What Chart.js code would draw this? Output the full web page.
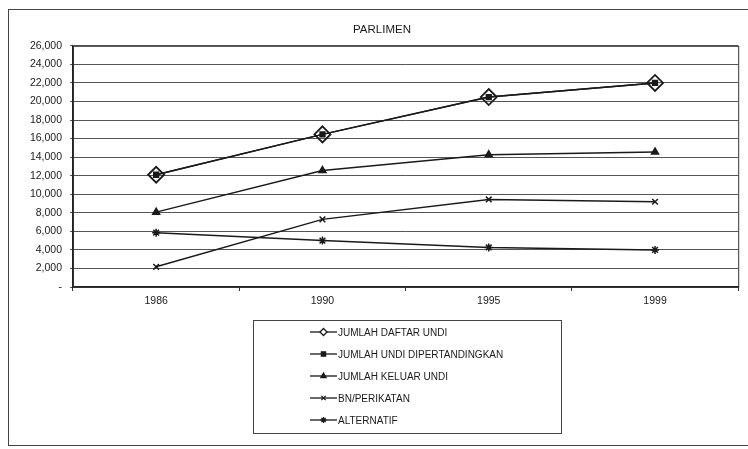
<!DOCTYPE html>
<html lang="ms">
<head>
  <meta charset="UTF-8" />
  <title>Parlimen</title>
  <script src="https://cdn.jsdelivr.net/npm/chart.js"></script>
  <style>
    body {
      margin: 0;
      padding: 0;
      background: #fff;
      font-family: 'Liberation Sans', Arial, sans-serif;
    }

    .page {
      position: relative;
      width: 748px;
      height: 449px;
      overflow: hidden;
    }

    .frame {
      position: absolute;
      left: 8px;
      top: 9px;
      width: 760px;
      height: 435px;
      border-left: 1px solid #444;
      border-top: 1px solid #444;
      border-bottom: 1px solid #444;
    }

    .chart-box {
      position: absolute;
      left: 0;
      top: 0;
      width: 748px;
      height: 449px;
    }

    .legend {
      position: absolute;
      left: 253px;
      top: 320px;
      width: 309px;
      height: 114px;
      border: 1px solid #444;
      box-sizing: border-box;
      padding: 0 0 0 54px;
    }

    .legend-row {
      display: flex;
      align-items: center;
      height: 22px;
      font-size: 10px;
      color: #1a1a1a;
    }

    .legend-row canvas {
      width: 30px;
      height: 12px;
      margin-right: 0;
    }
  </style>
</head>
<body>
  <div class="page">
    <div class="frame"></div>
    <div class="chart-box"><canvas id="parlimenChart"></canvas></div>
    <div class="legend" id="legend"></div>
  </div>

  <script>
    // values
    const years = ['1986', '1990', '1995', '1999'];
    const daftarUndi = [12100, 16450, 20470, 22000];
    const undiDipertandingkan = [12100, 16450, 20470, 22000];
    const keluarUndi = [8070, 12550, 14250, 14550];
    const bnPerikatan = [2180, 7290, 9440, 9190];
    const alternatif = [5860, 5000, 4260, 4000];

    const yMax = 26000;
    const yStep = 2000;

    const seriesNames = [
      'JUMLAH DAFTAR UNDI',
      'JUMLAH UNDI DIPERTANDINGKAN',
      'JUMLAH KELUAR UNDI',
      'BN/PERIKATAN',
      'ALTERNATIF'
    ];

    const ink = '#1a1a1a';
    const font = "'Liberation Sans', Arial, sans-serif";

    // draws the box round the plot area (right side included)
    const plotFrame = {
      id: 'plotFrame',
      afterDraw(chart) {
        const a = chart.chartArea;
        const ctx = chart.ctx;
        ctx.save();
        ctx.strokeStyle = '#333';
        ctx.lineWidth = 1;
        ctx.strokeRect(a.left + 0.5, a.top + 0.5, a.right - a.left, a.bottom - a.top);
        ctx.restore();
      }
    };

    const ctx = document.getElementById('parlimenChart').getContext('2d');
    const parlimenChart = new Chart(ctx, {
      type: 'line',
      data: {
        labels: years,
        datasets: [
          {
            label: seriesNames[0],
            data: daftarUndi,
            borderColor: ink,
            borderWidth: 1.5,
            backgroundColor: 'rgba(255,255,255,0)',
            pointStyle: 'rectRot',
            pointRadius: 8,
            pointBorderWidth: 1.8,
            pointBorderColor: ink
          },
          {
            label: seriesNames[1],
            data: undiDipertandingkan,
            borderColor: ink,
            borderWidth: 1.5,
            backgroundColor: ink,
            pointStyle: 'rect',
            pointRadius: 3.4
          },
          {
            label: seriesNames[2],
            data: keluarUndi,
            borderColor: ink,
            borderWidth: 1.5,
            backgroundColor: ink,
            pointStyle: 'triangle',
            pointRadius: 4
          },
          {
            label: seriesNames[3],
            data: bnPerikatan,
            borderColor: ink,
            borderWidth: 1.5,
            backgroundColor: ink,
            pointStyle: 'crossRot',
            pointRadius: 4,
            pointBorderWidth: 1.5
          },
          {
            label: seriesNames[4],
            data: alternatif,
            borderColor: ink,
            borderWidth: 1.5,
            backgroundColor: ink,
            pointStyle: 'star',
            pointRadius: 4,
            pointBorderWidth: 1.5
          }
        ]
      },
      options: {
        responsive: true,
        maintainAspectRatio: false,
        animation: false,
        layout: {
          padding: { left: 24, right: 8, top: 0, bottom: 138 }
        },
        scales: {
          x: {
            offset: true,
            grid: {
              offset: true,
              drawOnChartArea: false,
              drawTicks: true,
              tickLength: 4,
              color: '#333'
            },
            border: { color: '#222', width: 1.5 },
            ticks: {
              color: '#1a1a1a',
              padding: 4,
              font: { family: font, size: 10.5 }
            },
            afterFit(scale) {
              scale.height = 24;
            }
          },
          y: {
            min: 0,
            max: yMax,
            grid: {
              color: '#555',
              lineWidth: 1,
              drawTicks: true,
              tickLength: 3
            },
            border: { color: '#222', width: 1.5 },
            ticks: {
              stepSize: yStep,
              color: '#1a1a1a',
              padding: 8,
              font: { family: font, size: 10.5 },
              callback: function (value) {
                return value === 0 ? '-' : value.toLocaleString('en-US');
              }
            },
            afterFit(scale) {
              scale.width = 49;
            }
          }
        },
        plugins: {
          legend: { display: false },
          tooltip: { enabled: false },
          title: {
            display: true,
            text: 'PARLIMEN',
            color: '#1a1a1a',
            font: { family: font, size: 11.5, weight: 'normal' },
            padding: { top: 23, bottom: 9 }
          }
        }
      },
      plugins: [plotFrame]
    });

    // legend: a line with the series marker, then the name
    const legendBox = document.getElementById('legend');
    parlimenChart.data.datasets.forEach(function (ds, i) {
      const row = document.createElement('div');
      row.className = 'legend-row';
      const icon = document.createElement('canvas');
      icon.width = 30;
      icon.height = 12;
      const ictx = icon.getContext('2d');
      ictx.strokeStyle = ink;
      ictx.fillStyle = i === 0 ? '#fff' : ink;
      ictx.lineWidth = 1.3;
      ictx.beginPath();
      ictx.moveTo(2, 6);
      ictx.lineTo(29, 6);
      ictx.stroke();
      Chart.helpers.drawPoint(ictx, {
        pointStyle: ds.pointStyle,
        radius: i === 0 ? 3.5 : 3,
        rotation: 0,
        borderWidth: 1.2
      }, 15.5, 6);
      const label = document.createElement('span');
      label.textContent = ds.label;
      row.appendChild(icon);
      row.appendChild(label);
      legendBox.appendChild(row);
    });
  </script>
</body>
</html>
